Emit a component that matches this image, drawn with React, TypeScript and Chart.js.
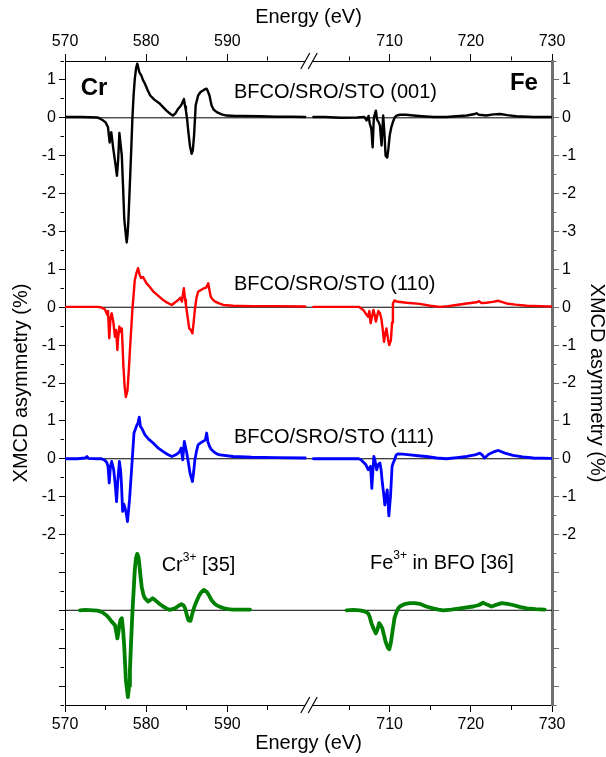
import React, { useEffect, useRef } from 'react';
import { Chart, registerables } from 'chart.js';

Chart.register(...registerables);

const FONT = 'Arial, "Liberation Sans", Helvetica, sans-serif';

// ---------- DATA: [energy (eV), XMCD asymmetry (%)] relative to each panel's own zero ----------
const cr001: [number, number][] = [
  [570, 0.02], [572, 0.02], [574, 0.01], [574.3, -0.02], [574.7, -0.07], [575.0, -0.12], [575.3, -0.25],
  [575.5, -0.65], [575.7, -0.38], [575.95, -0.82], [576.2, -1.2], [576.4, -1.53], [576.55, -1.1],
  [576.7, -0.4], [576.85, -0.7], [577.0, -1.0], [577.15, -1.8], [577.3, -2.67], [577.45, -3.0],
  [577.6, -3.29], [577.7, -3.1], [577.8, -2.76], [578.0, -1.7], [578.15, -0.9], [578.3, -0.03],
  [578.45, 0.6], [578.6, 1.03], [578.75, 1.3], [578.9, 1.43], [579.0, 1.35], [579.15, 1.21],
  [579.3, 1.15], [579.4, 1.12], [579.6, 1.0], [579.85, 0.9], [580.2, 0.72], [580.5, 0.59],
  [581.0, 0.48], [581.7, 0.37], [582.5, 0.19], [583.0, 0.1], [583.3, 0.06], [583.6, 0.12],
  [583.95, 0.24], [584.2, 0.3], [584.4, 0.37], [584.55, 0.45], [584.65, 0.5], [584.8, 0.3],
  [584.9, 0.19], [585.05, -0.05], [585.2, -0.38], [585.4, -0.75], [585.6, -0.95], [585.75, -0.85],
  [585.9, -0.47], [586.1, 0.33], [586.4, 0.59], [586.7, 0.68], [587.0, 0.72], [587.2, 0.75],
  [587.45, 0.77], [587.6, 0.7], [587.8, 0.59], [588.05, 0.33], [588.3, 0.22], [588.7, 0.15],
  [589.3, 0.09], [589.9, 0.06], [591, 0.05], [592, 0.05], [594, 0.04], [596, 0.03], [598, 0.03], [599.6, 0.02],
];
const fe001: [number, number][] = [
  [700.6, 0.02], [702, 0.02], [704, 0.0], [706, 0.01], [706.9, 0.02], [707.15, -0.07], [707.4, 0.05],
  [707.55, -0.15], [707.75, -0.3], [707.9, -0.78], [708.05, 0.0], [708.3, 0.19], [708.45, -0.05],
  [708.6, -0.1], [708.8, -0.2], [709.0, -0.73], [709.2, 0.06], [709.35, -0.4], [709.5, -1.0],
  [709.7, -1.05], [709.85, -0.8], [710.0, -0.47], [710.2, -0.25], [710.4, -0.11], [710.6, 0.0],
  [710.85, 0.06], [711.25, 0.08], [712, 0.08], [712.9, 0.06], [714, 0.04], [715.4, 0.02], [717, 0.02],
  [718.2, 0.04], [719.5, 0.06], [720.5, 0.1], [720.7, 0.12], [721.0, 0.08], [721.9, 0.06],
  [722.8, 0.09], [723.6, 0.1], [724.5, 0.07], [725.6, 0.04], [727.7, 0.02], [729.9, 0.02],
];

const cr110: [number, number][] = [
  [570, 0.01], [572, 0.01], [574, 0.01], [574.4, 0.0], [574.9, -0.05], [575.2, -0.2], [575.3, -0.1],
  [575.45, -0.82], [575.6, -0.3], [575.75, -0.16], [575.95, -0.38], [576.15, -0.78], [576.3, -0.6],
  [576.45, -1.13], [576.55, -0.8], [576.7, -0.51], [576.85, -0.65], [577.0, -0.56], [577.2, -1.57],
  [577.35, -2.1], [577.5, -2.37], [577.7, -2.19], [577.85, -1.7], [578.0, -1.13], [578.3, -0.07],
  [578.6, 0.72], [578.8, 0.9], [579.0, 1.03], [579.2, 0.85], [579.4, 0.77], [579.6, 0.8],
  [580.05, 0.63], [580.5, 0.52], [580.9, 0.41], [581.5, 0.3], [582.1, 0.19], [582.6, 0.12],
  [583.15, 0.06], [583.5, 0.12], [583.95, 0.19], [584.2, 0.25], [584.4, 0.15], [584.65, 0.5],
  [584.8, 0.2], [584.9, 0.06], [585.1, -0.25], [585.3, -0.56], [585.5, -0.6], [585.7, -0.69],
  [585.85, -0.4], [586.0, -0.07], [586.2, 0.25], [586.4, 0.41], [586.7, 0.45], [587.1, 0.5],
  [587.4, 0.52], [587.65, 0.63], [587.8, 0.45], [587.95, 0.28], [588.2, 0.2], [588.5, 0.15],
  [589.0, 0.1], [589.5, 0.06], [590.7, 0.04], [593, 0.03], [596, 0.03], [599.6, 0.02],
];
const fe110: [number, number][] = [
  [700.6, 0.01], [703, 0.01], [705, 0.01], [706.2, 0.01], [706.75, -0.07], [707.0, -0.15],
  [707.35, -0.25], [707.5, -0.1], [707.65, -0.42], [708.0, -0.07], [708.15, -0.2], [708.3, -0.38],
  [708.6, -0.1], [708.8, -0.15], [709.0, -0.33], [709.15, -0.6], [709.3, -0.91], [709.45, -0.7],
  [709.6, -0.56], [709.8, -0.85], [709.95, -1.0], [710.15, -0.87], [710.3, -0.4], [710.4, 0.1],
  [710.6, 0.18], [710.85, 0.15], [711.3, 0.14], [712.1, 0.12], [713.7, 0.09], [715, 0.04],
  [716.2, 0.01], [717.2, 0.03], [718.2, 0.06], [719.5, 0.1], [720.7, 0.13], [721.0, 0.16],
  [721.3, 0.11], [721.9, 0.12], [722.7, 0.14], [723.4, 0.17], [724.4, 0.1], [725.5, 0.07],
  [726.9, 0.04], [728.5, 0.03], [729.9, 0.02],
];

const cr111: [number, number][] = [
  [570, 0.0], [571.5, 0.0], [572.5, 0.02], [572.7, 0.06], [572.9, 0.01], [574, 0.0], [574.5, 0.0],
  [574.9, -0.04], [575.15, -0.1], [575.3, -0.2], [575.45, -0.64], [575.6, -0.2], [575.75, -0.07],
  [576.0, -0.29], [576.2, -0.7], [576.35, -1.13], [576.5, -0.6], [576.7, -0.07], [576.85, -0.3],
  [576.95, -0.64], [577.1, -1.39], [577.25, -1.2], [577.4, -1.3], [577.55, -1.45], [577.7, -1.66],
  [577.95, -1.08], [578.2, -0.29], [578.5, 0.68], [578.8, 0.86], [579.0, 0.95], [579.15, 1.1],
  [579.3, 0.85], [579.45, 0.81], [579.85, 0.63], [580.3, 0.52], [580.9, 0.41], [581.5, 0.28],
  [582.1, 0.19], [582.6, 0.12], [583.15, 0.06], [583.6, 0.1], [583.95, 0.15], [584.15, 0.2],
  [584.3, 0.28], [584.5, -0.03], [584.7, 0.46], [585.0, 0.15], [585.2, -0.1], [585.4, -0.38],
  [585.7, -0.6], [585.85, -0.35], [586.0, -0.03], [586.2, 0.2], [586.4, 0.37], [586.7, 0.42],
  [587.0, 0.46], [587.3, 0.5], [587.45, 0.68], [587.6, 0.45], [587.8, 0.33], [588.0, 0.25],
  [588.3, 0.19], [588.7, 0.13], [589.1, 0.1], [590.7, 0.06], [593, 0.04], [596, 0.03], [599.6, 0.02],
];
const fe111: [number, number][] = [
  [700.6, 0.0], [703, 0.0], [705, 0.0], [706.2, 0.0], [706.5, -0.03], [707.05, -0.15], [707.35, -0.29],
  [707.65, -0.2], [707.8, -0.78], [708.05, 0.06], [708.2, -0.05], [708.4, -0.29], [708.6, -0.15],
  [708.8, -0.11], [708.95, -0.3], [709.1, -0.64], [709.25, -0.9], [709.4, -1.22], [709.55, -1.0],
  [709.7, -0.82], [709.9, -1.51], [710.1, -1.0], [710.3, -0.2], [710.45, -0.1], [710.6, -0.03],
  [710.8, 0.1], [711.05, 0.13], [711.6, 0.12], [712.5, 0.1], [713.5, 0.08], [714.5, 0.06],
  [715.8, 0.02], [717.0, 0.0], [718.3, 0.03], [719.5, 0.06], [720.5, 0.1], [721.1, 0.15],
  [721.4, 0.1], [721.7, 0.02], [722.2, 0.12], [722.8, 0.18], [723.4, 0.22], [724.2, 0.15],
  [725.2, 0.09], [726.4, 0.05], [727.7, 0.02], [729.9, 0.01],
];

const crRef: [number, number][] = [
  [571.85, 0.0], [572.5, 0.01], [573.5, 0.0], [574.0, -0.01], [574.5, -0.04], [575.1, -0.13],
  [575.4, -0.2], [575.75, -0.3], [576.15, -0.39], [576.3, -0.55], [576.45, -0.74], [576.6, -0.55],
  [576.7, -0.39], [576.85, -0.25], [577.0, -0.21], [577.15, -0.5], [577.3, -0.96], [577.5, -1.84],
  [577.75, -2.29], [577.9, -2.0], [578.0, -1.58], [578.15, -0.8], [578.3, -0.08], [578.45, 0.5],
  [578.6, 1.07], [578.75, 1.38], [578.9, 1.49], [579.05, 1.4], [579.15, 1.24], [579.3, 0.9],
  [579.45, 0.62], [579.65, 0.42], [579.85, 0.32], [580.25, 0.23], [580.55, 0.28], [580.8, 0.32],
  [581.05, 0.28], [581.3, 0.23], [581.7, 0.16], [582.1, 0.1], [582.5, 0.05], [582.9, 0.01],
  [583.55, 0.05], [584.0, 0.12], [584.35, 0.16], [584.6, 0.13], [584.8, 0.05], [585.0, -0.12],
  [585.2, -0.26], [585.45, -0.28], [585.7, -0.08], [585.95, 0.1], [586.2, 0.23], [586.5, 0.38],
  [586.8, 0.48], [587.1, 0.54], [587.5, 0.48], [587.8, 0.37], [588.05, 0.27], [588.4, 0.18],
  [588.7, 0.13], [589.1, 0.09], [589.5, 0.06], [590.1, 0.03], [590.7, 0.02], [591.5, 0.02], [592.8, 0.02],
];
const feRef: [number, number][] = [
  [704.7, 0.0], [705.5, 0.01], [706.3, 0.0], [706.9, -0.03], [707.35, -0.08], [707.55, -0.18],
  [707.75, -0.34], [708.05, -0.5], [708.3, -0.61], [708.5, -0.5], [708.7, -0.34], [708.9, -0.4],
  [709.1, -0.48], [709.3, -0.65], [709.5, -0.83], [709.75, -0.98], [709.95, -1.03], [710.15, -0.85],
  [710.4, -0.48], [710.6, -0.2], [710.85, -0.04], [711.05, 0.05], [711.25, 0.1], [711.8, 0.16],
  [712.5, 0.19], [713.1, 0.19], [713.7, 0.17], [714.5, 0.1], [715.35, 0.05], [716.0, 0.02],
  [716.6, 0.0], [717.6, 0.02], [718.65, 0.05], [719.5, 0.08], [720.3, 0.1], [721.0, 0.14],
  [721.5, 0.2], [722.0, 0.15], [722.55, 0.1], [723.2, 0.15], [723.8, 0.19], [724.5, 0.17],
  [725.2, 0.14], [726.0, 0.09], [726.9, 0.05], [728, 0.03], [729.1, 0.02],
];

// vertical offset of each panel's zero
const PANEL_OFFSETS = [0, -5, -9, -13];
// y tick labels shown for each panel (relative values)
const PANEL_TICK_LABELS: number[][] = [[1, 0, -1, -2, -3], [1, 0, -1, -2], [1, 0, -1, -2], []];
// x tick energies (major labelled every 10 eV)
const X_TICK_ENERGIES = [570, 575, 580, 585, 590, 595, 705, 710, 715, 720, 725, 730];
const X_AXIS_TITLE = 'Energy (eV)';
const Y_AXIS_TITLE = 'XMCD asymmetry (%)';

// ---------- broken axis: 570–600 and 700–730 share one linear display axis ----------
const toDisp = (e: number) => (e > 650 ? e - 100 : e);
const X_MIN = 570;
const X_MAX = 630;
const BREAK_DISP = 600;
const Y_MIN = -15.5;
const Y_MAX = 1.5;

const SPECTRA = [
  { cr: cr001, fe: fe001, color: '#000000', width: 2.4 },
  { cr: cr110, fe: fe110, color: '#ff0000', width: 2.4 },
  { cr: cr111, fe: fe111, color: '#0000ff', width: 2.8 },
  { cr: crRef, fe: feRef, color: '#008000', width: 3.8 },
];

const ANNOTATIONS: { e: number; v: number; size: number; bold?: boolean; parts: [string, boolean][] }[] = [
  { e: 571.93, v: 0.6, size: 24, bold: true, parts: [['Cr', false]] },
  { e: 724.82, v: 0.73, size: 24, bold: true, parts: [['Fe', false]] },
  { e: 590.82, v: 0.515, size: 20, parts: [['BFCO/SRO/STO (001)', false]] },
  { e: 590.82, v: -4.545, size: 20, parts: [['BFCO/SRO/STO (110)', false]] },
  { e: 590.82, v: -8.59, size: 20, parts: [['BFCO/SRO/STO (111)', false]] },
  { e: 581.91, v: -11.956, size: 20, parts: [['Cr', false], ['3+', true], [' [35]', false]] },
  { e: 707.58, v: -11.92, size: 20, parts: [['Fe', false], ['3+', true], [' in BFO [36]', false]] },
];

const yLabelMap: Record<number, string> = {};
PANEL_TICK_LABELS.forEach((labels, p) => {
  labels.forEach((t) => {
    yLabelMap[Math.round((t + PANEL_OFFSETS[p]) * 2)] = String(t);
  });
});

const yTickValues: number[] = [];
for (let i = Math.round(Y_MIN * 2); i <= Math.round(Y_MAX * 2); i++) yTickValues.push(i / 2);

const isMinorX = (v: number) => Math.round(v) % 10 !== 0;
const isMinorY = (v: number) => Math.abs(v - Math.round(v)) > 0.01;

const decorPlugin = {
  id: 'decor',
  afterDraw(chart: any) {
    const { ctx, chartArea, scales } = chart;
    const xs = scales.x;
    const ys = scales.y;
    // axis break marks
    const bx = xs.getPixelForValue(BREAK_DISP);
    [chartArea.top, chartArea.bottom].forEach((yy: number) => {
      ctx.save();
      ctx.fillStyle = '#ffffff';
      ctx.fillRect(bx - 3.2, yy - 1.5, 7.4, 3);
      ctx.strokeStyle = '#000000';
      ctx.lineWidth = 1.2;
      [-3.2, 4.2].forEach((dx) => {
        ctx.beginPath();
        ctx.moveTo(bx + dx - 4.5, yy + 8);
        ctx.lineTo(bx + dx + 4.5, yy - 8);
        ctx.stroke();
      });
      ctx.restore();
    });
    // text annotations
    ctx.save();
    ctx.fillStyle = '#000000';
    ctx.textBaseline = 'alphabetic';
    ctx.textAlign = 'left';
    ANNOTATIONS.forEach((a) => {
      let x = xs.getPixelForValue(toDisp(a.e));
      const y = ys.getPixelForValue(a.v);
      a.parts.forEach(([t, sup]) => {
        const size = sup ? Math.round(a.size * 0.62) : a.size;
        ctx.font = `${a.bold ? 'bold ' : ''}${size}px ${FONT}`;
        ctx.fillText(t, x, sup ? y - a.size * 0.5 : y);
        x += ctx.measureText(t).width;
      });
    });
    ctx.restore();
  },
};

function buildConfig(): any {
  const datasets: any[] = [];
  PANEL_OFFSETS.forEach((off) => {
    datasets.push({
      data: [{ x: X_MIN, y: off }, { x: X_MAX, y: off }],
      borderColor: '#000000',
      borderWidth: 1,
      pointRadius: 0,
      order: 10,
    });
  });
  SPECTRA.forEach((s, i) => {
    const off = PANEL_OFFSETS[i];
    [s.cr, s.fe].forEach((seg) => {
      datasets.push({
        data: seg.map(([e, v]) => ({ x: toDisp(e), y: v + off })),
        borderColor: s.color,
        borderWidth: s.width,
        borderJoinStyle: 'round',
        borderCapStyle: 'round',
        pointRadius: 0,
        tension: 0,
        order: 1,
      });
    });
  });

  const tickFont = { family: FONT, size: 16 };
  const titleFont = { family: FONT, size: 20 };

  const xTicksBuild = (scale: any) => {
    scale.ticks = X_TICK_ENERGIES.map((e) => ({ value: toDisp(e) }));
  };
  const xLabel = (v: any) => {
    const n = Number(v);
    if (isMinorX(n)) return '';
    return String(n >= BREAK_DISP ? n + 100 : n);
  };
  const yTicksBuild = (scale: any) => {
    scale.ticks = yTickValues.map((v) => ({ value: v }));
  };
  const yLabel = (v: any) => yLabelMap[Math.round(Number(v) * 2)] ?? '';

  const xCommon = {
    type: 'linear',
    min: X_MIN,
    max: X_MAX,
    afterBuildTicks: xTicksBuild,
    border: { display: true, color: '#000000', width: 1 },
    ticks: { callback: xLabel, font: tickFont, color: '#000000', padding: 3, autoSkip: false, maxRotation: 0, minRotation: 0 },
  };
  const yCommon = {
    type: 'linear',
    min: Y_MIN,
    max: Y_MAX,
    afterBuildTicks: yTicksBuild,
    ticks: { callback: yLabel, font: tickFont, color: '#000000', padding: 3, autoSkip: false },
  };

  return {
    type: 'line',
    data: { datasets },
    options: {
      animation: false,
      responsive: false,
      devicePixelRatio: 1,
      events: [],
      layout: { padding: 0 },
      plugins: { legend: { display: false }, tooltip: { enabled: false }, title: { display: false } },
      elements: { point: { radius: 0 }, line: { fill: false } },
      scales: {
        x: {
          ...xCommon,
          position: 'bottom',
          afterFit: (s: any) => { s.height = 52; },
          grid: {
            drawOnChartArea: false, drawTicks: true, tickLength: 7, tickColor: '#000000', tickWidth: 1,
            tickBorderDash: (c: any) => (c.tick && isMinorX(c.tick.value) ? [4, 100] : []),
          },
          title: { display: true, text: X_AXIS_TITLE, font: titleFont, color: '#000000', padding: { top: 0, bottom: 1.5 } },
        },
        x2: {
          ...xCommon,
          position: 'top',
          afterFit: (s: any) => { s.height = 61; },
          grid: {
            drawOnChartArea: false, drawTicks: true, tickLength: 7, tickColor: '#000000', tickWidth: 1,
            tickBorderDash: (c: any) => (c.tick && isMinorX(c.tick.value) ? [4, 100] : []),
            tickBorderDashOffset: 101.5,
          },
          title: { display: true, text: X_AXIS_TITLE, font: titleFont, color: '#000000', padding: { top: 5, bottom: 0 } },
        },
        y: {
          ...yCommon,
          position: 'left',
          afterFit: (s: any) => { s.width = 65; },
          border: { display: true, color: '#000000', width: 1 },
          grid: {
            drawOnChartArea: false, drawTicks: true, tickLength: 6, tickColor: '#000000', tickWidth: 1,
            tickBorderDash: (c: any) => (c.tick && isMinorY(c.tick.value) ? [3.5, 100] : []),
            tickBorderDashOffset: 102,
          },
          title: { display: true, text: Y_AXIS_TITLE, font: titleFont, color: '#000000', padding: { top: 9, bottom: 0 } },
        },
        y2: {
          ...yCommon,
          position: 'right',
          afterFit: (s: any) => { s.width = 54; },
          border: { display: true, color: '#6f6f6f', width: 3 },
          grid: {
            drawOnChartArea: false, drawTicks: true, tickLength: 7, tickColor: '#6f6f6f', tickWidth: 1,
            tickBorderDash: (c: any) => (c.tick && isMinorY(c.tick.value) ? [2.5, 100] : []),
          },
          title: { display: true, text: Y_AXIS_TITLE, font: { ...titleFont, lineHeight: 0.9 }, color: '#000000', padding: { top: 0, bottom: 0 } },
        },
      },
    },
    plugins: [decorPlugin],
  };
}

export default function App() {
  const ref = useRef<HTMLCanvasElement>(null);
  useEffect(() => {
    if (!ref.current) return;
    const chart = new Chart(ref.current, buildConfig());
    return () => chart.destroy();
  }, []);
  return (
    <div style={{ position: 'absolute', left: 0, top: 0, width: 606, height: 757, background: '#ffffff' }}>
      <canvas ref={ref} width={606} height={757} style={{ display: 'block', width: 606, height: 757 }} />
    </div>
  );
}
